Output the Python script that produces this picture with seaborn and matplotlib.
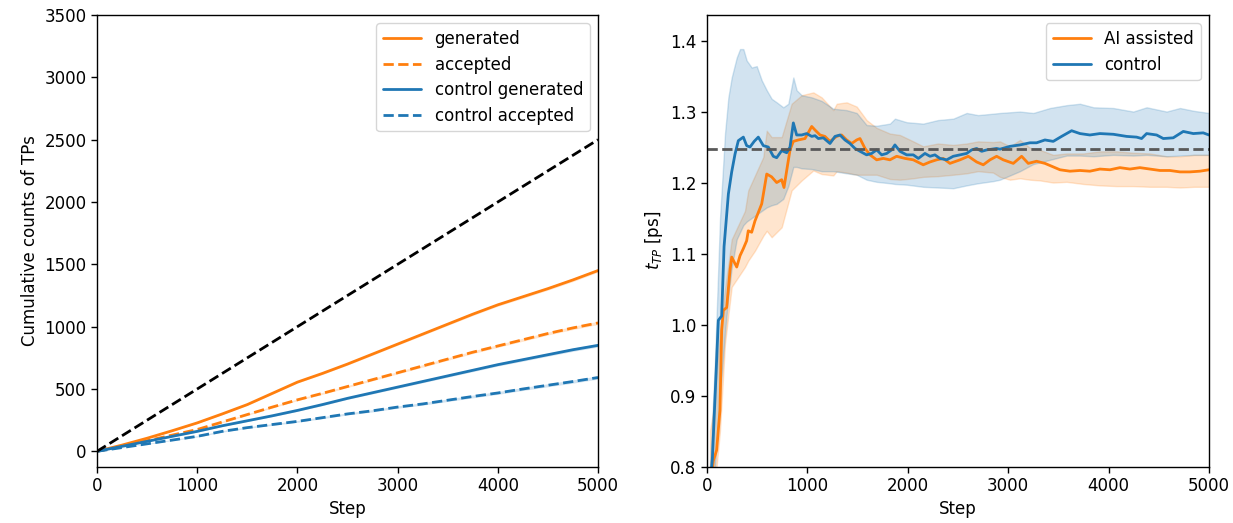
import numpy as np
import pandas as pd
import matplotlib
matplotlib.use("Agg")
import matplotlib.pyplot as plt
import seaborn as sns

# ---------------- cumulative counts (left panel) ----------------
cum_steps = [0, 250, 500, 750, 1000, 1250, 1500, 1750, 2000, 2250, 2500,
             2750, 3000, 3250, 3500, 3750, 4000, 4250, 4500, 4750, 5000]
generated = [0, 50, 105, 165, 228, 300, 375, 465, 555, 625, 700,
             780, 860, 940, 1020, 1100, 1175, 1240, 1305, 1375, 1450]
accepted = [0, 40, 85, 130, 175, 235, 295, 355, 413, 465, 520,
            575, 630, 685, 740, 795, 845, 895, 945, 990, 1030]
control_generated = [0, 40, 80, 120, 160, 205, 245, 285, 328, 375, 425,
                     470, 515, 560, 605, 650, 695, 735, 775, 815, 850]
control_accepted = [0, 30, 60, 90, 120, 160, 190, 215, 240, 270, 300,
                    325, 355, 380, 410, 440, 468, 500, 530, 560, 592]
cum_spread = [0, 2, 3, 4, 5, 6, 6, 7, 7, 8, 8,
              9, 9, 10, 10, 11, 11, 12, 12, 13, 13]
reference_rate = 0.5  # one TP every two steps

# ---------------- t_TP estimates (right panel) ----------------
ai_steps = [20, 63, 96, 129, 146, 163, 196, 229, 246, 296, 329, 362, 395, 411,
            445, 478, 545, 595, 644, 694, 744, 767, 794, 827, 860, 910, 976,
            1043, 1076, 1126, 1175, 1225, 1291, 1341, 1391, 1441, 1491, 1524,
            1574, 1624, 1690, 1756, 1822, 1889, 1972, 2055, 2154, 2221, 2287,
            2353, 2420, 2520, 2603, 2686, 2752, 2819, 2885, 2951, 3051, 3134,
            3200, 3283, 3366, 3433, 3516, 3615, 3715, 3814, 3914, 4014, 4113,
            4213, 4312, 4412, 4512, 4611, 4711, 4810, 4910, 5000]
ai_tp = [0.75, 0.808, 0.823, 0.879, 0.992, 1.020, 1.024, 1.076, 1.095, 1.081,
         1.097, 1.107, 1.118, 1.132, 1.130, 1.146, 1.170, 1.212, 1.208, 1.200,
         1.204, 1.193, 1.217, 1.246, 1.258, 1.260, 1.262, 1.279, 1.274, 1.267,
         1.265, 1.258, 1.265, 1.267, 1.260, 1.255, 1.260, 1.262, 1.248, 1.239,
         1.232, 1.234, 1.232, 1.237, 1.234, 1.232, 1.225, 1.229, 1.232, 1.234,
         1.227, 1.232, 1.237, 1.229, 1.225, 1.232, 1.237, 1.232, 1.227, 1.237,
         1.227, 1.230, 1.227, 1.223, 1.218, 1.216, 1.217, 1.216, 1.219, 1.218,
         1.221, 1.219, 1.221, 1.219, 1.217, 1.217, 1.215, 1.215, 1.216, 1.218]

ctrl_steps = [20, 53, 90, 113, 146, 170, 213, 246, 279, 312, 362, 395, 428,
              470, 511, 561, 611, 660, 694, 744, 794, 827, 860, 893, 943, 993,
              1043, 1076, 1109, 1159, 1225, 1275, 1325, 1374, 1424, 1474, 1524,
              1590, 1640, 1690, 1740, 1790, 1839, 1872, 1922, 1989, 2055, 2105,
              2171, 2221, 2270, 2320, 2387, 2453, 2520, 2586, 2636, 2686, 2736,
              2786, 2885, 2918, 3018, 3117, 3217, 3283, 3366, 3449, 3532, 3632,
              3715, 3814, 3914, 4047, 4180, 4279, 4329, 4379, 4479, 4545, 4644,
              4744, 4844, 4943, 5000]
ctrl_tp = [0.76, 0.81, 0.93, 1.006, 1.012, 1.110, 1.184, 1.215, 1.240, 1.259,
           1.264, 1.252, 1.250, 1.258, 1.264, 1.252, 1.250, 1.237, 1.235, 1.245,
           1.242, 1.250, 1.284, 1.267, 1.267, 1.269, 1.265, 1.266, 1.262, 1.263,
           1.255, 1.265, 1.267, 1.260, 1.255, 1.248, 1.244, 1.239, 1.241, 1.246,
           1.239, 1.241, 1.246, 1.253, 1.244, 1.239, 1.239, 1.234, 1.241, 1.237,
           1.239, 1.234, 1.232, 1.237, 1.239, 1.241, 1.246, 1.248, 1.244, 1.246,
           1.248, 1.247, 1.251, 1.253, 1.256, 1.256, 1.260, 1.258, 1.265, 1.273,
           1.269, 1.267, 1.269, 1.268, 1.265, 1.264, 1.262, 1.269, 1.267, 1.262,
           1.263, 1.272, 1.269, 1.270, 1.267]

ai_band_steps = [30, 63, 129, 179, 246, 312, 378, 411, 478, 561, 595, 644, 744,
                 843, 943, 1059, 1142, 1258, 1292, 1391, 1491, 1590, 1690, 1822,
                 1922, 2055, 2154, 2300, 2453, 2586, 2700, 2850, 2918, 3018,
                 3117, 3217, 3316, 3449, 3582, 3750, 3914, 4080, 4246, 4412,
                 4578, 4711, 4850, 5000]
ai_upper = [0.85, 0.88, 0.99, 1.05, 1.12, 1.14, 1.16, 1.189, 1.21, 1.236,
            1.273, 1.264, 1.264, 1.311, 1.323, 1.327, 1.320, 1.302, 1.311,
            1.313, 1.307, 1.288, 1.277, 1.269, 1.267, 1.258, 1.251, 1.255,
            1.253, 1.255, 1.258, 1.257, 1.258, 1.251, 1.260, 1.249, 1.246,
            1.239, 1.241, 1.241, 1.244, 1.244, 1.242, 1.241, 1.237, 1.237,
            1.239, 1.239]
ai_lower = [0.70, 0.75, 0.85, 0.973, 1.053, 1.067, 1.081, 1.09, 1.104, 1.125,
            1.132, 1.123, 1.137, 1.189, 1.203, 1.217, 1.212, 1.210, 1.216,
            1.214, 1.211, 1.211, 1.211, 1.205, 1.204, 1.206, 1.208, 1.209,
            1.211, 1.213, 1.216, 1.214, 1.208, 1.204, 1.206, 1.204, 1.203,
            1.200, 1.201, 1.198, 1.196, 1.195, 1.195, 1.194, 1.194, 1.193,
            1.194, 1.194]

ctrl_band_steps = [30, 80, 130, 180, 213, 246, 296, 329, 362, 395, 445, 495,
                   545, 595, 644, 694, 760, 810, 860, 893, 943, 1043, 1142,
                   1258, 1391, 1491, 1590, 1690, 1822, 1872, 1989, 2154, 2300,
                   2453, 2586, 2700, 2850, 2918, 3018, 3117, 3250, 3416, 3582,
                   3715, 3850, 4047, 4246, 4379, 4578, 4711, 4850, 5000]
ctrl_upper = [0.80, 0.95, 1.15, 1.27, 1.320, 1.348, 1.376, 1.388, 1.388, 1.372,
              1.362, 1.364, 1.344, 1.330, 1.318, 1.313, 1.306, 1.311, 1.348,
              1.330, 1.323, 1.320, 1.315, 1.304, 1.302, 1.298, 1.281, 1.280,
              1.283, 1.290, 1.285, 1.283, 1.288, 1.290, 1.298, 1.295, 1.297,
              1.298, 1.299, 1.300, 1.298, 1.305, 1.309, 1.311, 1.306, 1.305,
              1.300, 1.306, 1.300, 1.305, 1.301, 1.298]
ctrl_lower = [0.70, 0.80, 0.90, 0.99, 1.04, 1.08, 1.12, 1.13, 1.14, 1.145,
              1.15, 1.155, 1.16, 1.165, 1.168, 1.17, 1.177, 1.195, 1.222,
              1.222, 1.220, 1.219, 1.216, 1.216, 1.213, 1.211, 1.204, 1.201,
              1.199, 1.198, 1.197, 1.194, 1.193, 1.192, 1.196, 1.199, 1.202,
              1.204, 1.210, 1.216, 1.226, 1.232, 1.238, 1.238, 1.237, 1.239,
              1.238, 1.239, 1.237, 1.238, 1.239, 1.239]
t_tp_reference = 1.247

ORANGE = "#ff7f0e"
BLUE = "#1f77b4"

sns.set_style("ticks")
plt.rcParams.update({
    "font.family": ["DejaVu Sans"],
    "font.size": 12,
    "axes.edgecolor": "black",
    "xtick.color": "black",
    "ytick.color": "black",
    "axes.labelcolor": "black",
    "text.color": "black",
})

fig = plt.figure(figsize=(12.33, 5.23), dpi=100)
ax1 = fig.add_axes([0.0787, 0.108, 0.4063, 0.8633])
ax2 = fig.add_axes([0.5734, 0.108, 0.4071, 0.8633])

legend_kw = dict(loc="upper right", frameon=True, fontsize=12,
                 handlelength=2.3, labelspacing=0.45)

# left panel: cumulative counts
series = [
    ("generated", generated, ORANGE, "-"),
    ("accepted", accepted, ORANGE, "--"),
    ("control generated", control_generated, BLUE, "-"),
    ("control accepted", control_accepted, BLUE, "--"),
]
for label, vals, color, ls in series:
    v = np.asarray(vals, dtype=float)
    s = np.asarray(cum_spread, dtype=float)
    ax1.fill_between(cum_steps, v - s, v + s, color=color, alpha=0.2, lw=0)
    sns.lineplot(x=cum_steps, y=vals, ax=ax1, color=color, linestyle=ls,
                 lw=2, label=label)
ref_x = [0, cum_steps[-1]]
ax1.plot(ref_x, [reference_rate * x for x in ref_x], color="black",
         linestyle="--", lw=2)
ax1.set_xlim(0, 5000)
ax1.set_ylim(-122, 3500)
ax1.set_xticks(range(0, 5001, 1000))
ax1.set_yticks(range(0, 3501, 500))
ax1.set_xlabel("Step")
ax1.set_ylabel("Cumulative counts of TPs")
ax1.legend(**legend_kw)

# right panel: t_TP estimates with confidence bands
ax2.fill_between(ai_band_steps, ai_lower, ai_upper, color=ORANGE, alpha=0.2)
ax2.fill_between(ctrl_band_steps, ctrl_lower, ctrl_upper, color=BLUE, alpha=0.2)
sns.lineplot(x=ai_steps, y=ai_tp, ax=ax2, color=ORANGE, lw=2,
             label="AI assisted")
sns.lineplot(x=ctrl_steps, y=ctrl_tp, ax=ax2, color=BLUE, lw=2,
             label="control")
ax2.axhline(t_tp_reference, color="0.35", linestyle="--", lw=2)
ax2.set_xlim(0, 5000)
ax2.set_ylim(0.8, 1.436)
ax2.set_xticks(range(0, 5001, 1000))
ax2.set_yticks([0.8, 0.9, 1.0, 1.1, 1.2, 1.3, 1.4])
ax2.set_xlabel("Step")
ax2.set_ylabel("$t_{TP}$ [ps]")
ax2.legend(**legend_kw)

for ax in (ax1, ax2):
    for sp in ax.spines.values():
        sp.set_visible(True)
        sp.set_linewidth(1.0)
    ax.tick_params(direction="out", length=4, width=1)

fig.savefig("out.png", dpi=100)
